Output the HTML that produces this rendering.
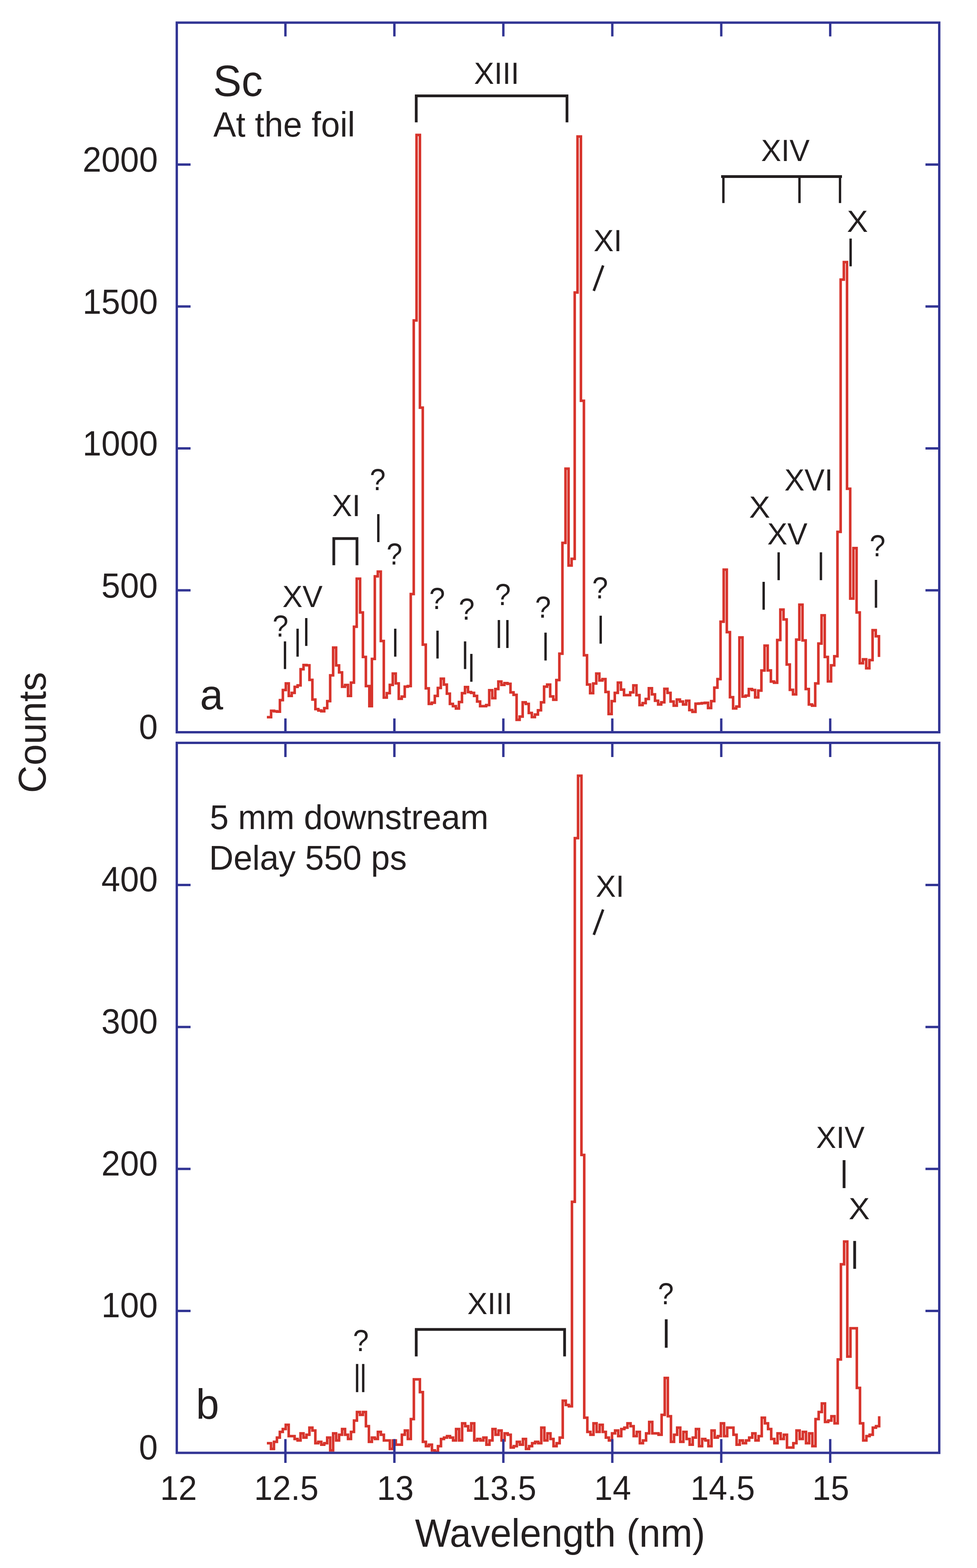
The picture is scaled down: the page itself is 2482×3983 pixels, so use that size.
<!DOCTYPE html>
<html lang="en">
<head>
<meta charset="utf-8">
<title>Sc spectra</title>
<style>
html,body{margin:0;padding:0;background:#fff;}
body{width:2482px;height:3983px;overflow:hidden;font-family:"Liberation Sans",Arial,Helvetica,sans-serif;}
svg{display:block;}
</style>
</head>
<body>
<svg width="2482" height="3983" viewBox="0 0 2482 3983">
<rect width="2482" height="3983" fill="#fff"/>
<g fill="none" stroke="#d7342c" stroke-width="6.5" stroke-linejoin="miter" stroke-linecap="butt">
<path d="M678.0 1821.8H688.7V1805.4H696.2V1806.7H703.7V1807.7H711.1V1778.6H718.6V1752.8H726.1V1735.9H733.6V1767.7H741.1V1760.1H748.6V1744.8H756.1V1740.9H763.6V1700.0H771.1V1689.3H778.6V1690.1H786.1V1727.0H793.6V1777.0H801.2V1801.2H808.7V1804.8H816.2V1806.7H823.7V1798.8H831.3V1781.0H838.8V1715.5H846.3V1645.0H853.9V1690.3H861.4V1708.1H869.0V1744.6H876.5V1739.9H884.1V1767.7H891.6V1733.9H899.2V1591.9H906.2V1470.0H914.8V1555.8H921.9V1668.8H929.5V1742.7H938.3V1793.8H944.8V1673.8H952.2V1464.1H959.8V1452.0H967.4V1628.2H975.0V1772.0H982.6V1760.7H990.2V1739.7H997.8V1711.1H1005.4V1735.9H1013.0V1775.0H1020.6V1769.6H1028.2V1744.2H1035.9V1742.7H1043.5V1509.1H1051.1V814.0H1058.2V342.8H1066.8V1035.5H1074.0V1637.5H1081.7V1748.6H1089.3V1787.9H1096.9V1784.9H1104.6V1767.7H1112.2V1747.6H1119.9V1724.0H1127.6V1738.9H1135.2V1762.1H1142.9V1787.9H1150.6V1793.8H1158.2V1799.8H1165.9V1783.3H1173.6V1760.7H1181.3V1745.2H1188.9V1758.1H1196.6V1760.1H1204.3V1767.7H1212.0V1781.9H1219.7V1793.8H1227.4V1793.8H1235.1V1790.9H1242.8V1753.2H1250.5V1773.4H1258.3V1750.2H1266.0V1731.3H1273.7V1739.7H1281.4V1735.3H1289.2V1736.9H1296.9V1758.7H1304.6V1765.1H1312.4V1828.6H1320.1V1820.2H1327.8V1783.9H1335.6V1787.9H1343.3V1811.1H1351.1V1821.6H1358.9V1815.1H1366.6V1804.2H1374.4V1783.9H1382.2V1744.2H1389.9V1738.9H1397.7V1769.0H1405.5V1777.6H1413.3V1727.4H1421.0V1660.5H1428.8V1379.0H1436.6V1190.5H1444.4V1436.6H1452.2V1419.4H1460.0V743.1H1467.2V346.8H1475.8V1018.0H1483.4V1664.5H1491.3V1738.8H1499.1V1760.7H1506.9V1736.3H1514.7V1711.1H1522.6V1728.4H1530.4V1725.0H1538.2V1757.7H1546.1V1813.7H1553.9V1781.0H1561.8V1760.1H1569.6V1733.9H1577.5V1751.8H1585.3V1765.7H1593.2V1765.7H1601.0V1758.7H1608.9V1740.9H1616.8V1765.7H1624.6V1790.9H1632.5V1785.9H1640.4V1775.6H1648.3V1748.2H1656.2V1763.7H1664.0V1780.0H1671.9V1789.5H1679.8V1783.9H1687.7V1749.8H1695.6V1760.1H1703.5V1781.9H1711.5V1792.5H1719.4V1777.0H1727.3V1781.9H1735.2V1789.5H1743.1V1780.0H1751.1V1803.8H1759.0V1808.3H1766.9V1787.5H1774.9V1786.9H1782.8V1785.9H1790.7V1785.3H1798.7V1798.4H1806.6V1781.0H1814.6V1746.8H1822.6V1725.0H1830.5V1579.2H1838.5V1447.0H1846.4V1605.8H1854.4V1771.0H1862.4V1799.4H1870.4V1794.8H1878.4V1619.2H1886.3V1769.4H1894.3V1767.1H1902.3V1750.2H1910.3V1752.8H1918.3V1771.4H1926.3V1754.2H1934.3V1703.2H1942.3V1640.1H1950.3V1703.0H1958.4V1731.3H1966.4V1734.3H1974.4V1625.8H1982.4V1548.4H1990.5V1573.6H1998.5V1688.1H2006.5V1752.2H2014.6V1763.7H2022.6V1624.8H2030.7V1535.9H2038.7V1626.8H2046.8V1750.2H2054.8V1789.5H2062.9V1792.5H2071.0V1735.9H2079.0V1634.7H2087.1V1563.1H2095.2V1668.8H2103.2V1730.8H2111.3V1690.1H2119.4V1666.9H2127.5V1351.0H2135.6V710.3H2143.7V665.8H2151.8V1241.5H2159.9V1520.6H2168.0V1392.3H2176.1V1555.8H2184.2V1684.7H2192.3V1674.8H2200.5V1697.6H2208.6V1676.8H2216.7V1600.8H2224.8V1616.3H2233.0V1668.8"/>
<path d="M678.0 3666.1H688.5V3680.6H696.0V3662.5H703.5V3651.7H710.9V3637.3H718.4V3630.1H725.9V3619.2H733.4V3648.1H740.9V3648.1H748.4V3655.3H756.0V3658.9H763.5V3640.9H771.0V3651.7H778.5V3644.5H786.0V3626.5H793.6V3633.7H801.1V3666.1H808.6V3662.5H816.2V3669.8H823.7V3666.1H831.2V3651.7H838.8V3684.2H846.3V3640.9H853.9V3658.9H861.4V3644.5H869.0V3630.1H876.6V3644.5H884.1V3655.3H891.7V3637.3H899.3V3608.4H906.8V3586.8H914.4V3594.0H922.0V3586.8H929.6V3622.8H937.2V3662.5H944.8V3651.7H952.4V3655.3H960.0V3637.3H967.6V3644.5H975.2V3658.9H982.8V3658.9H990.4V3680.6H998.0V3658.9H1005.6V3669.8H1013.2V3669.8H1020.9V3644.5H1028.5V3633.7H1036.1V3655.3H1043.7V3604.8H1051.4V3503.8H1059.0V3503.8H1066.7V3536.3H1074.3V3662.5H1082.0V3673.4H1089.6V3669.8H1097.3V3684.2H1104.9V3687.8H1112.6V3673.4H1120.3V3655.3H1127.9V3651.7H1135.6V3648.1H1143.3V3651.7H1151.0V3658.9H1158.6V3630.1H1166.3V3658.9H1174.0V3615.6H1181.7V3622.8H1189.4V3633.7H1197.1V3615.6H1204.8V3658.9H1212.5V3655.3H1220.2V3658.9H1227.9V3651.7H1235.7V3669.8H1243.4V3658.9H1251.1V3630.1H1258.8V3644.5H1266.5V3633.7H1274.3V3658.9H1282.0V3640.9H1289.8V3644.5H1297.5V3677.0H1305.2V3673.4H1313.0V3662.5H1320.7V3669.8H1328.5V3655.3H1336.2V3680.6H1344.0V3673.4H1351.8V3666.1H1359.5V3662.5H1367.3V3666.1H1375.1V3626.5H1382.9V3658.9H1390.6V3640.9H1398.4V3655.3H1406.2V3673.4H1414.0V3666.1H1421.8V3651.7H1429.6V3557.9H1437.4V3568.7H1445.2V3572.3H1453.0V3052.8H1460.3V2129.1H1468.5V1970.4H1477.1V2933.7H1484.2V3601.2H1492.1V3637.3H1499.9V3644.5H1507.7V3615.6H1515.6V3637.3H1523.4V3619.2H1531.2V3637.3H1539.1V3651.7H1546.9V3658.9H1554.8V3640.9H1562.6V3633.7H1570.5V3648.1H1578.3V3630.1H1586.2V3626.5H1594.0V3615.6H1601.9V3622.8H1609.8V3648.1H1617.7V3637.3H1625.5V3666.1H1633.4V3658.9H1641.3V3640.9H1649.2V3612.0H1657.1V3640.9H1665.0V3640.9H1672.9V3644.5H1680.8V3594.0H1688.7V3500.2H1696.6V3597.6H1704.5V3662.5H1712.4V3644.5H1720.3V3626.5H1728.2V3662.5H1736.1V3637.3H1744.1V3655.3H1752.0V3669.8H1759.9V3651.7H1767.9V3630.1H1775.8V3673.4H1783.7V3655.3H1791.7V3658.9H1799.6V3673.4H1807.6V3633.7H1815.5V3651.7H1823.5V3648.1H1831.4V3615.6H1839.4V3648.1H1847.4V3626.5H1855.3V3626.5H1863.3V3644.5H1871.3V3669.8H1879.3V3658.9H1887.3V3666.1H1895.2V3658.9H1903.2V3651.7H1911.2V3640.9H1919.2V3658.9H1927.2V3648.1H1935.2V3601.2H1943.2V3615.6H1951.2V3630.1H1959.2V3655.3H1967.3V3666.1H1975.3V3640.9H1983.3V3655.3H1991.3V3644.5H1999.3V3677.0H2007.4V3677.0H2015.4V3666.1H2023.4V3633.7H2031.5V3655.3H2039.5V3637.3H2047.6V3666.1H2055.6V3640.9H2063.7V3673.4H2071.7V3604.8H2079.8V3586.8H2087.8V3565.1H2095.9V3612.0H2104.0V3608.4H2112.1V3597.6H2120.1V3615.6H2128.2V3453.3H2136.3V3211.5H2144.4V3153.8H2152.5V3446.1H2160.5V3373.9H2168.6V3373.9H2176.7V3525.4H2184.8V3615.6H2192.9V3658.9H2201.0V3648.1H2209.2V3644.5H2217.3V3626.5H2225.4V3622.8H2233.5V3597.6"/>
</g>
<g fill="none" stroke="#323594" stroke-width="6.0" stroke-linecap="butt" stroke-linejoin="miter">
<rect x="449.1" y="57.5" width="1937.0" height="1802.5"/>
<rect x="449.1" y="1887.0" width="1937.0" height="1803.5"/>
<path d="M725.1 57.5v35M725.1 1860.0v-35M725.1 1887.0v36M725.1 3655.5v60.5M1001.9 57.5v35M1001.9 1860.0v-35M1001.9 1887.0v36M1001.9 3655.5v60.5M1278.7 57.5v35M1278.7 1860.0v-35M1278.7 1887.0v36M1278.7 3655.5v60.5M1555.5 57.5v35M1555.5 1860.0v-35M1555.5 1887.0v36M1555.5 3655.5v60.5M1832.3 57.5v35M1832.3 1860.0v-35M1832.3 1887.0v36M1832.3 3655.5v60.5M2109.1 57.5v35M2109.1 1860.0v-35M2109.1 1887.0v36M2109.1 3655.5v60.5M449.1 1499.5h35M2386.1 1499.5h-35M449.1 3329.9h35M2386.1 3329.9h-35M449.1 1139.0h35M2386.1 1139.0h-35M449.1 2969.3h35M2386.1 2969.3h-35M449.1 778.5h35M2386.1 778.5h-35M449.1 2608.7h35M2386.1 2608.7h-35M449.1 418.0h35M2386.1 418.0h-35M449.1 2248.1h35M2386.1 2248.1h-35"/>
</g>
<g fill="none" stroke="#231f20" stroke-linecap="butt" stroke-linejoin="miter">
<path stroke-width="7.0" d="M1057.4 310.8V243.5H1440.4V310.8M1832 448.4H2139M848 1435.7V1368.1H906.9V1435.7M1057.4 3445.5V3377H1434.3V3445.5"/>
<path stroke-width="6.5" d="M1508.4 738.9L1532.3 674.4M1508.5 2374.7L1532.2 2310.3"/>
<path stroke-width="6.0" d="M1837.7 448.4V515.7M2031.0 448.4V515.7M2134.0 448.4V515.7M724.0 1629.2V1699.6M756.0 1597.0V1667.9M778.0 1570.0V1640.7M961.1 1306.0V1377.0M1004.1 1597.0V1667.9M1111.5 1602.0V1672.8M1181.5 1629.2V1699.6M1197.4 1660.9V1731.7M1267.4 1575.0V1646.0M1289.0 1575.0V1646.0M1385.9 1606.9V1677.8M1526.0 1564.1V1635.1M1940.0 1478.0V1548.8M1978.1 1403.0V1473.8M2085.5 1403.0V1473.8M2225.4 1473.0V1543.8M2160.9 606.0V676.6M907.2 3464.8V3536.3M922.7 3464.8V3536.3"/>
<path stroke-width="7.1" d="M2144.3 2947.1V3017.9M2171.2 3152.2V3222.9M1692.5 3351.2V3423.4"/>
</g>
<g fill="#231f20" font-family="'Liberation Sans', Arial, Helvetica, sans-serif">
<text transform="translate(209.7 436.3) scale(1 1.045)" font-size="86">2000</text>
<text transform="translate(209.7 796.8) scale(1 1.045)" font-size="86">1500</text>
<text transform="translate(209.7 1157.3) scale(1 1.045)" font-size="86">1000</text>
<text transform="translate(257.4 1517.8) scale(1 1.045)" font-size="86">500</text>
<text transform="translate(353.1 1877.0) scale(1 1.045)" font-size="86">0</text>
<text transform="translate(257.4 2264.4) scale(1 1.045)" font-size="86">400</text>
<text transform="translate(257.4 2625) scale(1 1.045)" font-size="86">300</text>
<text transform="translate(257.4 2985.6) scale(1 1.045)" font-size="86">200</text>
<text transform="translate(257.4 3346.2) scale(1 1.045)" font-size="86">100</text>
<text transform="translate(353.1 3707.3) scale(1 1.045)" font-size="86">0</text>
<text transform="translate(406.8 3810.3) scale(1 1.045)" font-size="84.2">12</text>
<text transform="translate(645.4 3810.3) scale(1 1.045)" font-size="84.2">12.5</text>
<text transform="translate(957.5 3810.3) scale(1 1.045)" font-size="84.2">13</text>
<text transform="translate(1198.7 3810.3) scale(1 1.045)" font-size="84.2">13.5</text>
<text transform="translate(1509.6 3810.3) scale(1 1.045)" font-size="84.2">14</text>
<text transform="translate(1754.0 3810.3) scale(1 1.045)" font-size="84.2">14.5</text>
<text transform="translate(2063.6 3810.3) scale(1 1.045)" font-size="84.2">15</text>
<text transform="translate(1054.3 3929) scale(1 1.02)" font-size="97.3">Wavelength (nm)</text>
<text transform="translate(541.5 244) scale(1 1.03)" font-size="108">Sc</text>
<text transform="translate(541.9 346.8) scale(1 1.02)" font-size="86.4">At the foil</text>
<text transform="translate(1204.2 213.4) scale(1 1.022)" font-size="76.5">XIII</text>
<text transform="translate(1933.5 409.3) scale(1 1.022)" font-size="76.5">XIV</text>
<text transform="translate(2151.4 588.9) scale(1 0.972)" font-size="80.4">X</text>
<text transform="translate(1508.1 637.8) scale(1 1.022)" font-size="76.5">XI</text>
<text transform="translate(1992.8 1245.9) scale(1 1.022)" font-size="76.5">XVI</text>
<text transform="translate(1903.1 1315.3) scale(1 0.972)" font-size="80.4">X</text>
<text transform="translate(1949.2 1382.5) scale(1 1.022)" font-size="76.5">XV</text>
<text transform="translate(2209.2 1412.9) scale(1 1.07)" font-size="72">?</text>
<text transform="translate(939.5 1245.2) scale(1 1.07)" font-size="72">?</text>
<text transform="translate(843.5 1310.7) scale(1 1.022)" font-size="76.5">XI</text>
<text transform="translate(982.1 1433.7) scale(1 1.07)" font-size="72">?</text>
<text transform="translate(717.4 1541.9) scale(1 1.022)" font-size="76.5">XV</text>
<text transform="translate(692.6 1616.9) scale(1 1.07)" font-size="72">?</text>
<text transform="translate(1090.5 1547.2) scale(1 1.07)" font-size="72">?</text>
<text transform="translate(1165.4 1574) scale(1 1.07)" font-size="72">?</text>
<text transform="translate(1257.4 1536.9) scale(1 1.07)" font-size="72">?</text>
<text transform="translate(1359.5 1569.2) scale(1 1.07)" font-size="72">?</text>
<text transform="translate(1504.4 1520) scale(1 1.07)" font-size="72">?</text>
<text transform="translate(507.9 1801.5) scale(1 1.02)" font-size="106">a</text>
<text transform="translate(532.9 2106) scale(1 1.02)" font-size="86.1">5 mm downstream</text>
<text transform="translate(531.0 2208.9) scale(1 1.02)" font-size="86.1">Delay 550 ps</text>
<text transform="translate(1513.4 2278.4) scale(1 1.022)" font-size="76.5">XI</text>
<text transform="translate(2073.3 2916.4) scale(1 1.022)" font-size="76.5">XIV</text>
<text transform="translate(2156.0 3096.6) scale(1 0.972)" font-size="80.4">X</text>
<text transform="translate(1671.4 3312.7) scale(1 1.07)" font-size="72">?</text>
<text transform="translate(1187.2 3338.1) scale(1 1.022)" font-size="76.5">XIII</text>
<text transform="translate(896.7 3432.3) scale(1 1.07)" font-size="72">?</text>
<text transform="translate(497.7 3603.8) scale(1 1.02)" font-size="106">b</text>
<text transform="translate(115.7 2014.4) rotate(-90) scale(1 1.01)" font-size="97">Counts</text>
</g>
</svg>
</body>
</html>
